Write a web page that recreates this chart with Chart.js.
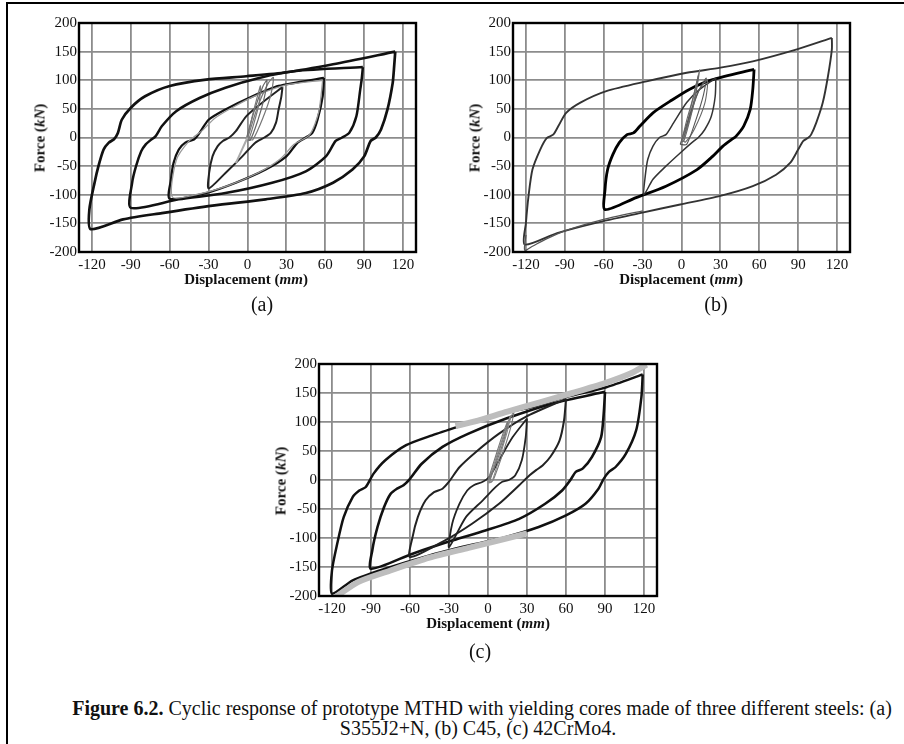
<!DOCTYPE html>
<html>
<head>
<meta charset="utf-8">
<script src="https://cdn.jsdelivr.net/npm/chart.js@4.4.0/dist/chart.umd.min.js"></script>
<style>
  body { margin: 0; width: 904px; height: 744px; position: relative; overflow: hidden; background: #fff;
         font-family: "Liberation Serif", "Times New Roman", serif; color: #111; }
  #frame { position: absolute; left: 6px; top: 2px; width: 920px; height: 760px;
           border-left: 2px solid #000; border-top: 2px solid #000; }
  .panel { position: absolute; }
  .lbl { position: absolute; white-space: nowrap; transform: translate(-50%, -50%); }
  .ytitle { font-weight: bold; font-size: 15px; transform: translate(-50%, -50%) rotate(-90deg); }
  .xtitle { font-weight: bold; font-size: 15px; }
  .tag { font-size: 20px; }
  .caption { font-size: 20px; }
</style>
</head>
<body>
<div id="frame"></div>

<div class="panel" style="left:19px;top:13px;"><canvas id="chartA" width="411" height="263"></canvas></div>
<div class="panel" style="left:453px;top:13px;"><canvas id="chartB" width="411" height="263"></canvas></div>
<div class="panel" style="left:259px;top:354px;"><canvas id="chartC" width="412" height="266"></canvas></div>

<div class="lbl ytitle" style="left:40px;top:138px;">Force (<i>kN</i>)</div>
<div class="lbl xtitle" style="left:246px;top:279px;">Displacement (<i>mm</i>)</div>
<div class="lbl tag" style="left:262px;top:304px;">(a)</div>

<div class="lbl ytitle" style="left:475px;top:138px;">Force (<i>kN</i>)</div>
<div class="lbl xtitle" style="left:681px;top:279px;">Displacement (<i>mm</i>)</div>
<div class="lbl tag" style="left:716px;top:304px;">(b)</div>

<div class="lbl ytitle" style="left:281px;top:481px;">Force (<i>kN</i>)</div>
<div class="lbl xtitle" style="left:488px;top:623px;">Displacement (<i>mm</i>)</div>
<div class="lbl tag" style="left:480px;top:651px;">(c)</div>

<div class="lbl caption" style="left:482px;top:708px;"><b>Figure 6.2.</b> Cyclic response of prototype MTHD with yielding cores made of three different steels: (a)</div>
<div class="lbl caption" style="left:478px;top:728px;">S355J2+N, (b) C45, (c) 42CrMo4.</div>

<script>
// axis ticks shared by the three panels
const xTicks = [-120, -90, -60, -30, 0, 30, 60, 90, 120];
const yTicks = [-200, -150, -100, -50, 0, 50, 100, 150, 200];

// (a) S355J2+N — [displacement mm, force kN]
const aLoop120 = [[114,150],[113,120],[112,95],[108,49],[103,14],[99,0],[95,-6],[90,-33],[81,-56],[66,-79],[45,-97],[14,-108],[-27,-119],[-66,-132],[-96,-143],[-121,-160],[-122,-126],[-118,-79],[-115,-50],[-111,-21],[-107,-9],[-103,-3],[-100,8],[-97,31],[-90,52],[-79,72],[-60,90],[-32,101],[-1,107],[30,114],[66,128],[114,150]];
const aLoop90 = [[89,123],[88,100],[87,84],[84,37],[78.5,8],[73,0],[68,-6],[60.5,-33],[45,-59],[19,-79],[-17,-97],[-53,-108],[-90,-123],[-89,-79],[-86,-50],[-82,-24],[-78.5,-12],[-75,-5],[-71,2],[-66,20],[-55,46],[-37,69],[-17,87],[9,104],[37,116],[89,123]];
const aLoop60 = [[59,104],[58,72],[54,31],[50,8],[45,0],[38.6,-9],[30,-33],[14,-56],[-9,-79],[-32,-97],[-60,-107],[-59,-73],[-57,-44],[-53,-21],[-48,-9],[-41,-3],[-37,8],[-30,31],[-17,49],[1,69],[24,90],[59,104]];
const aLoop60g = [[58,100],[55,45],[48,5],[36,-12],[25,-38],[8,-62],[-15,-84],[-40,-100],[-58,-104],[-55,-40],[-45,-6],[-35,12],[-25,34],[-12,52],[5,72],[30,92],[58,100]];
const aLoop30 = [[27,88],[26,70],[24,49],[22,26],[18,8],[13,0],[6,-9],[-4,-33],[-17,-62],[-30,-89],[-29.6,-62],[-27,-33],[-23,-15],[-19,-6],[-14,0],[-9,11],[-1,37],[12,62],[27,88]];
const aSmall1 = [[0,0],[4,40],[8,75],[10,90],[9,60],[5,25],[1,-3],[0,0]];
const aSmall2 = [[-1,-3],[5,45],[12,90],[15,100],[13,70],[8,30],[2,-5],[-1,-3]];
const aSmall3 = [[0,-2],[8,55],[16,95],[20,105],[18,75],[12,35],[4,-4],[0,-2]];
const aStart = [[0,0],[-4,-20],[-9,-45]];

// (b) C45
const bLoop120 = [[116,174],[116,154],[113,107],[109,61],[104,26],[100,5],[98,0],[94,-6],[90,-21],[84,-44],[73,-65],[55,-85],[30,-102],[-1,-117],[-32,-132],[-66,-149],[-96,-167],[-121,-187],[-120,-149],[-118,-102],[-115,-56],[-109,-21],[-104,-1],[-99,5],[-95,20],[-89,43],[-78,61],[-58,81],[-27,98],[4,113],[30,122],[55,133],[89,154],[116,174]];
const bTail = [[-30,-128],[-60,-143],[-90,-163],[-105,-178],[-115,-190],[-121,-197],[-120,-170]];
const bLoop60 = [[56,119],[55,84],[53,49],[48,20],[42,2],[39,-3],[32,-15],[24,-33],[12,-56],[-12,-85],[-35,-105],[-59,-126],[-59,-91],[-57,-56],[-53,-30],[-48,-9],[-42,5],[-37,8],[-32,20],[-22,43],[-9,63],[6,84],[24,101],[56,119]];
const bLoop30 = [[26.5,104],[26,72],[23,37],[18,14],[13,0],[8,-9],[-1,-27],[-12,-50],[-22,-73],[-29,-100],[-28,-68],[-26,-38],[-22,-15],[-17,0],[-12,5],[-6,26],[4,61],[14,84],[26.5,104]];
const bSmall1 = [[0,-8],[4,30],[9,70],[13,108],[11,75],[7,35],[2,-5],[0,-8]];
const bSmall2 = [[-1,-12],[5,30],[12,75],[19,104],[17,75],[11,30],[4,-12],[-1,-12]];
const bSmall3 = [[1,-5],[7,40],[14,85],[20,100],[18,60],[10,15],[3,-8],[1,-5]];
const bSmall4 = [[2,0],[8,60],[14,118],[12,90],[6,30],[2,0]];

// (c) 42CrMo4
const cGreyTop = [[-25,93],[-10,101],[15,118],[40,134],[65,150],[90,167],[110,184],[122,199]];
const cGreyBot = [[-118,-203],[-100,-176],[-75,-156],[-45,-134],[-15,-117],[10,-103],[30,-92]];
const cLoop120 = [[119,182],[118,143],[114,86],[106,45],[98,22],[93,14],[89,2],[85,-15],[75,-41],[60,-61],[39,-81],[14,-98],[-15,-113],[-45,-130],[-79,-153],[-104,-173],[-120,-196],[-120,-156],[-116,-110],[-111,-64],[-104,-29],[-99,-18],[-94,-12],[-88,11],[-79,34],[-63,60],[-43,77],[-20,94],[8,114],[34,126],[60,143],[91,160],[119,182]];
const cLoop90 = [[90,152],[89,114],[87,74],[80,40],[73,20],[67.5,14],[64,2],[57,-18],[44,-41],[24,-67],[-2,-87],[-27,-104],[-58,-127],[-90,-153],[-89,-121],[-85,-81],[-80,-47],[-75,-24],[-70,-15],[-65,-9],[-60,2],[-51,28],[-35,57],[-15,80],[14,106],[50,132],[90,152]];
const cLoop60 = [[60,140],[58.5,103],[55,68],[48,40],[42,25],[37,17],[32,8],[24,-9],[8.5,-41],[-12,-75],[-33,-104],[-60,-133],[-58,-98],[-54,-64],[-48,-35],[-41.5,-21],[-35,-15],[-30,-3],[-22,22],[-9.5,48],[8.5,80],[29,109],[60,140]];
const cLoop30 = [[30,106],[29,74],[26,34],[21,8],[16,0],[11,-3],[6,-12],[-4,-35],[-17,-64],[-30,-116],[-27.5,-75],[-22,-41],[-16,-18],[-11,-9],[-4,-3],[1,5],[8.5,34],[19,74],[30,106]];
const cSmall1 = [[0,0],[5,35],[10,70],[15,100],[13,75],[8,40],[2,5],[0,0]];
const cSmall2 = [[0,-5],[8,50],[17,110],[15,85],[9,40],[3,-3],[0,-5]];
const cSmall3 = [[1,-5],[10,60],[20,120],[18,95],[12,50],[4,0],[1,-5]];

function trace(pts, color, width) {
  return {
    data: pts.map(p => ({ x: p[0], y: p[1] })),
    showLine: true,
    borderColor: color,
    borderWidth: width,
    pointRadius: 0,
    tension: 0.25,
    fill: false
  };
}

// black frame round the plotting area
const framePlugin = {
  id: 'frame',
  afterDatasetsDraw(chart) {
    const a = chart.chartArea;
    const ctx = chart.ctx;
    ctx.save();
    ctx.strokeStyle = '#000';
    ctx.lineWidth = 2.4;
    ctx.strokeRect(a.left, a.top, a.right - a.left, a.bottom - a.top);
    ctx.restore();
  }
};

function noPad(s) {
  s.paddingTop = 0; s.paddingBottom = 0; s.paddingLeft = 0; s.paddingRight = 0;
}

function plotPanel(id, datasets) {
  new Chart(document.getElementById(id), {
    type: 'scatter',
    data: { datasets },
    plugins: [framePlugin],
    options: {
      responsive: false,
      animation: false,
      layout: { padding: { left: 0, top: 10, right: 14, bottom: 0 } },
      plugins: { legend: { display: false }, tooltip: { enabled: false } },
      scales: {
        x: {
          type: 'linear', min: -130, max: 130,
          afterBuildTicks: s => { s.ticks = xTicks.map(v => ({ value: v })); },
          afterFit: s => { s.height = 24; noPad(s); },
          grid: { color: '#8c8c8c', lineWidth: 1.8, drawTicks: false },
          border: { display: false },
          ticks: { padding: 4, color: '#111', font: { family: 'Liberation Serif', size: 15 } }
        },
        y: {
          type: 'linear', min: -200, max: 200,
          afterBuildTicks: s => { s.ticks = yTicks.map(v => ({ value: v })); },
          afterFit: s => { s.width = 60; noPad(s); },
          grid: { color: '#8c8c8c', lineWidth: 1.8, drawTicks: false },
          border: { display: false },
          ticks: { padding: 2, color: '#111', font: { family: 'Liberation Serif', size: 15 } }
        }
      }
    }
  });
}

plotPanel('chartA', [
  trace(aStart, '#aaaaaa', 2),
  trace(aSmall1, '#777777', 1.2),
  trace(aSmall2, '#666666', 1.2),
  trace(aSmall3, '#777777', 1.2),
  trace(aLoop60g, '#999999', 1.3),
  trace(aLoop30, '#222222', 2),
  trace(aLoop60, '#111111', 2.3),
  trace(aLoop90, '#111111', 2.5),
  trace(aLoop120, '#111111', 2.7)
]);

plotPanel('chartB', [
  trace(bSmall1, '#666666', 1.1),
  trace(bSmall2, '#555555', 1.1),
  trace(bSmall3, '#666666', 1.1),
  trace(bSmall4, '#777777', 1.1),
  trace(bTail, '#555555', 1.3),
  trace(bLoop30, '#333333', 1.5),
  trace(bLoop120, '#333333', 1.9),
  trace(bLoop60, '#000000', 2.8)
]);

plotPanel('chartC', [
  trace(cGreyTop, '#bdbdbd', 6),
  trace(cGreyBot, '#bdbdbd', 6),
  trace(cSmall1, '#777777', 1.1),
  trace(cSmall2, '#888888', 1.1),
  trace(cSmall3, '#777777', 1.1),
  trace(cLoop30, '#222222', 1.8),
  trace(cLoop60, '#222222', 2),
  trace(cLoop90, '#111111', 2.6),
  trace(cLoop120, '#111111', 2.5)
]);
</script>
</body>
</html>
